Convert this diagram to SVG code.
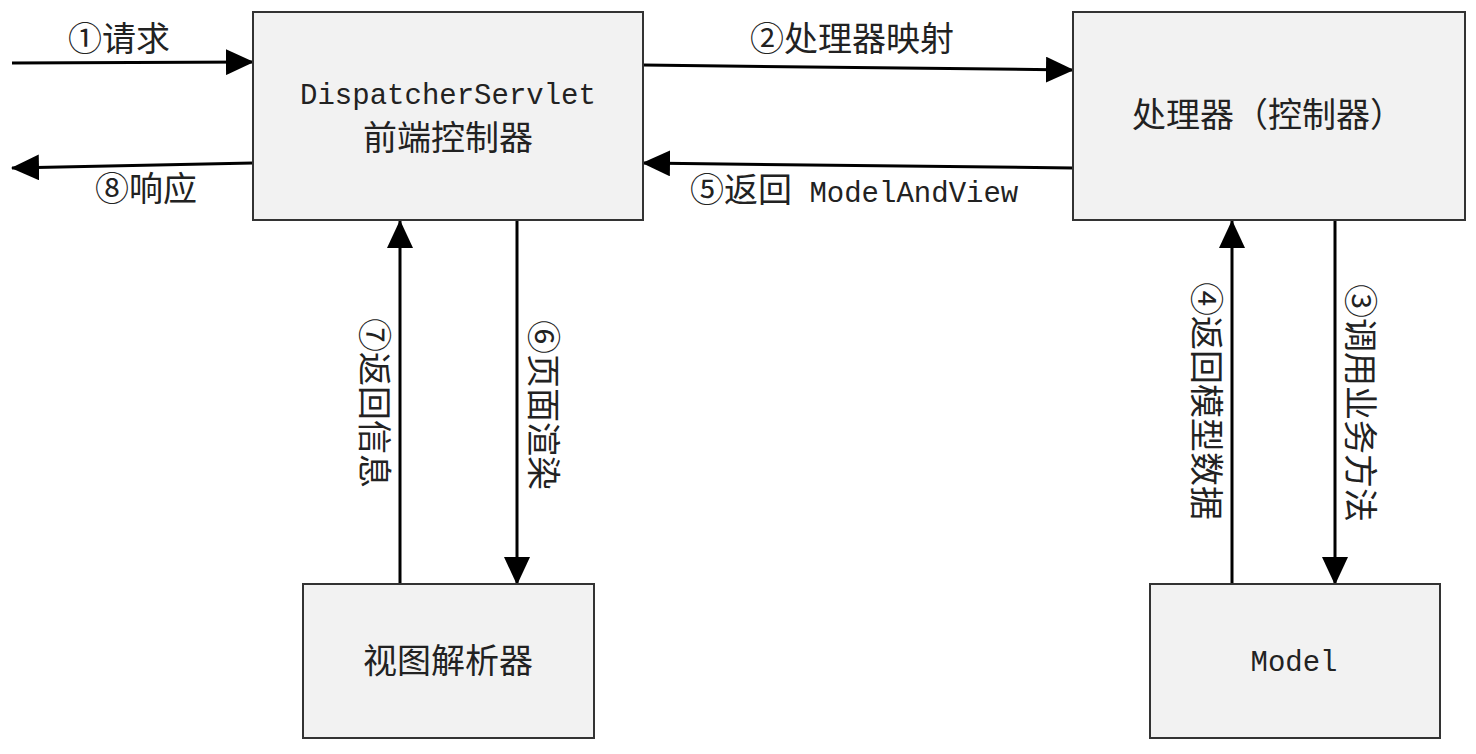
<svg xmlns="http://www.w3.org/2000/svg" width="1476" height="754" viewBox="0 0 1476 754">
<style>
.box{fill:#f2f2f2;stroke:#333;stroke-width:2}
.t{font-family:"Noto Sans CJK SC","Liberation Sans",sans-serif;font-size:34px;fill:#222}
.m{font-family:"Liberation Mono","Noto Sans CJK SC",monospace;font-size:29px;fill:#222}
.c{text-anchor:middle}
.ln{stroke:#000;stroke-width:3;fill:none;marker-end:url(#ah)}
</style>
<defs>
<marker id="ah" markerUnits="userSpaceOnUse" markerWidth="28" markerHeight="26" refX="27" refY="13" orient="auto" viewBox="0 0 28 26">
<path d="M0,0 L28,13 L0,26 z" fill="#000"/>
</marker>
</defs>
<rect width="1476" height="754" fill="#fff"/>
<g id="connectors">
<line class="ln" x1="12" y1="63" x2="253" y2="62"/>
<line class="ln" x1="253" y1="163" x2="12" y2="168"/>
<line class="ln" x1="643" y1="65" x2="1073" y2="70"/>
<line class="ln" x1="1073" y1="168" x2="643" y2="163"/>
<line class="ln" x1="400" y1="584" x2="400" y2="221"/>
<line class="ln" x1="517" y1="221" x2="517" y2="584"/>
<line class="ln" x1="1232" y1="584" x2="1232" y2="221"/>
<line class="ln" x1="1335" y1="221" x2="1335" y2="584"/>
<text class="t" x="68" y="51">①请求</text>
<text class="t" x="95" y="201">⑧响应</text>
<text class="t" x="750" y="51">②处理器映射</text>
<text class="t" x="690" y="202">⑤返回<tspan class="m"> ModelAndView</tspan></text>
<text class="t c" dominant-baseline="central" transform="translate(376,403) rotate(90)">⑦返回信息</text>
<text class="t c" dominant-baseline="central" transform="translate(545,405) rotate(90)">⑥页面渲染</text>
<text class="t c" dominant-baseline="central" transform="translate(1208,401) rotate(90)">④返回模型数据</text>
<text class="t c" dominant-baseline="central" transform="translate(1362,403) rotate(90)">③调用业务方法</text>
</g>
<g id="dispatcher">
<rect class="box" x="253" y="12" width="390" height="208"/>
<text class="m c" x="448" y="104">DispatcherServlet</text>
<text class="t c" x="448" y="150">前端控制器</text>
</g>
<g id="handler">
<rect class="box" x="1073" y="12" width="392" height="208"/>
<text class="t c" x="1268" y="127">处理器（控制器）</text>
</g>
<g id="viewresolver">
<rect class="box" x="303" y="584" width="291" height="154"/>
<text class="t c" x="448" y="673">视图解析器</text>
</g>
<g id="model">
<rect class="box" x="1150" y="584" width="290" height="154"/>
<text class="m c" x="1294" y="671">Model</text>
</g>
</svg>
